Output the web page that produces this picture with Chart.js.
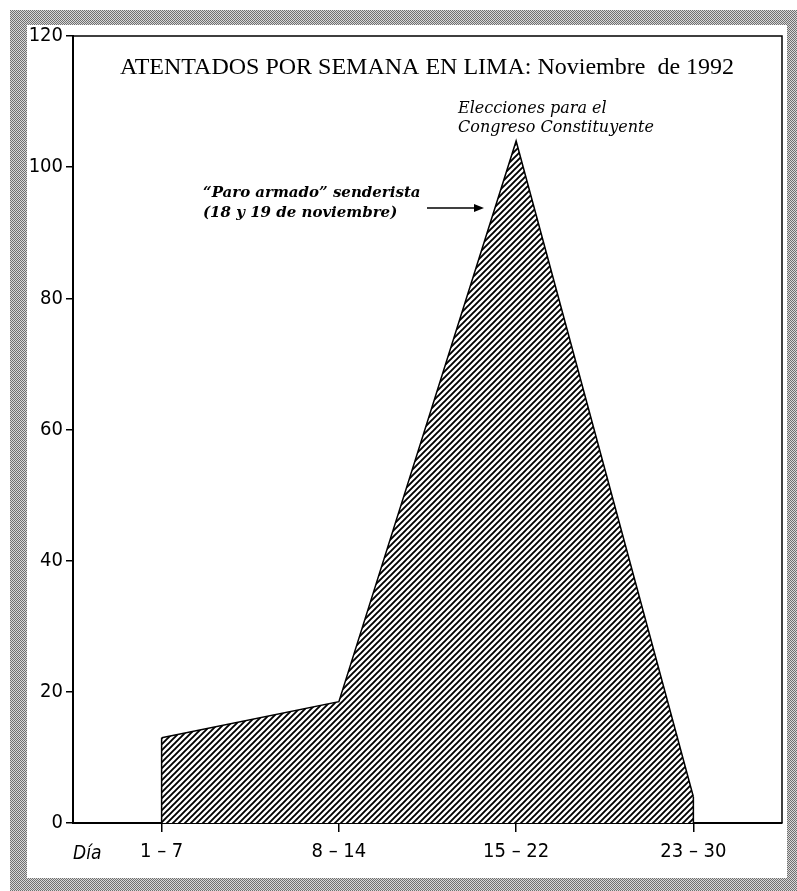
<!DOCTYPE html>
<html>
<head>
<meta charset="utf-8">
<script src="https://cdn.jsdelivr.net/npm/chart.js@4/dist/chart.umd.min.js"></script>
<style>
  body { margin: 0; background: #fff; }
  canvas { display: block; }
</style>
</head>
<body>
<canvas id="atentadosChart" width="797" height="891"></canvas>
<script>
// Datos: atentados por semana en Lima, noviembre de 1992
const semanas = ['1 \u2013 7', '8 \u2013 14', '15 \u2013 22', '23 \u2013 30'];
const atentados = [13, 18.5, 104, 4];
const yMin = 0;
const yMax = 120;
const yPaso = 20;

const tituloTexto = 'ATENTADOS POR SEMANA EN LIMA: Noviembre  de 1992';
const notaElecciones = ['Elecciones para el', 'Congreso Constituyente'];
const notaParo = ['\u201CParo armado\u201D senderista', '(18 y 19 de noviembre)'];
const ejeXTexto = 'Día';

const tickFont = "'DejaVu Sans Condensed', 'DejaVu Sans', sans-serif";

// Rayado diagonal
function crearRayado() {
    const s = 6;
    const c = document.createElement('canvas');
    c.width = s; c.height = s;
    const g = c.getContext('2d');
    g.fillStyle = '#fff';
    g.fillRect(0, 0, s, s);
    g.strokeStyle = '#000';
    g.lineWidth = 1.9;
    g.beginPath();
    g.moveTo(0, s); g.lineTo(s, 0);
    g.moveTo(-1, 1); g.lineTo(1, -1);
    g.moveTo(s - 1, s + 1); g.lineTo(s + 1, s - 1);
    g.stroke();
    return document.createElement('canvas').getContext('2d').createPattern(c, 'repeat');
}

// Textura gris del marco
function crearTrama() {
    const c = document.createElement('canvas');
    c.width = 2; c.height = 2;
    const g = c.getContext('2d');
    g.fillStyle = '#d8d8d8'; g.fillRect(0, 0, 2, 2);
    g.fillStyle = '#707070'; g.fillRect(0, 0, 1, 1); g.fillRect(1, 1, 1, 1);
    return document.createElement('canvas').getContext('2d').createPattern(c, 'repeat');
}

const decoracion = {
    id: 'decoracion',
    beforeDraw(chart) {
        const ctx = chart.ctx;
        ctx.save();
        ctx.fillStyle = crearTrama();
        ctx.fillRect(10, 10, 787, 881);
        ctx.fillStyle = '#fff';
        ctx.fillRect(27, 25, 760, 853);
        ctx.restore();
    },
    afterDatasetsDraw(chart) {
        const ctx = chart.ctx;
        const a = chart.chartArea;
        const pts = chart.getDatasetMeta(0).data;
        const base = chart.scales.y.getPixelForValue(0);
        ctx.save();
        ctx.strokeStyle = '#000';
        ctx.lineWidth = 1.5;
        // bordes verticales del área
        ctx.beginPath();
        ctx.moveTo(pts[0].x, base); ctx.lineTo(pts[0].x, pts[0].y);
        const u = pts[pts.length - 1];
        ctx.moveTo(u.x, base); ctx.lineTo(u.x, u.y);
        // marco superior y derecho
        ctx.moveTo(a.left, a.top); ctx.lineTo(a.right, a.top); ctx.lineTo(a.right, a.bottom);
        ctx.stroke();

        ctx.fillStyle = '#000';
        ctx.textBaseline = 'alphabetic';
        ctx.textAlign = 'left';
        ctx.font = "24px 'Liberation Serif', serif";
        ctx.fillText(tituloTexto, 120, 74);

        ctx.font = "italic 16px 'DejaVu Serif', serif";
        ctx.fillText(notaElecciones[0], 458, 113);
        ctx.fillText(notaElecciones[1], 458, 132);

        ctx.font = "italic bold 15px 'DejaVu Serif', serif";
        ctx.fillText(notaParo[0], 203, 197);
        ctx.fillText(notaParo[1], 203, 217);

        // flecha
        ctx.beginPath();
        ctx.moveTo(427, 208); ctx.lineTo(478, 208);
        ctx.stroke();
        ctx.beginPath();
        ctx.moveTo(484, 208); ctx.lineTo(474, 204); ctx.lineTo(474, 212);
        ctx.closePath();
        ctx.fill();

        ctx.font = "italic 19px " + tickFont;
        ctx.fillText(ejeXTexto, 73, 859);
        ctx.restore();
    }
};

const ctx = document.getElementById('atentadosChart').getContext('2d');
new Chart(ctx, {
    type: 'line',
    data: {
        labels: semanas,
        datasets: [{
            data: atentados,
            borderColor: '#000',
            borderWidth: 1.5,
            backgroundColor: crearRayado(),
            fill: 'origin',
            tension: 0,
            pointRadius: 0
        }]
    },
    options: {
        responsive: false,
        animation: false,
        layout: { padding: { top: 36, right: 15, left: 0, bottom: 0 } },
        plugins: { legend: { display: false }, tooltip: { enabled: false } },
        scales: {
            x: {
                type: 'category',
                offset: true,
                grid: { drawOnChartArea: false, drawTicks: true, tickLength: 9, color: '#000', lineWidth: 1.5 },
                border: { display: true, color: '#000', width: 2 },
                ticks: { color: '#000', font: { family: tickFont, size: 20 }, padding: 8, maxRotation: 0 },
                afterFit: s => { s.height = 68; }
            },
            y: {
                min: yMin,
                max: yMax,
                grid: { drawOnChartArea: false, drawTicks: true, tickLength: 7, color: '#000', lineWidth: 1.5 },
                border: { display: true, color: '#000', width: 2 },
                ticks: { stepSize: yPaso, color: '#000', font: { family: tickFont, size: 20 }, padding: 3 },
                afterFit: s => { s.width = 73; }
            }
        }
    },
    plugins: [decoracion]
});
</script>
</body>
</html>
